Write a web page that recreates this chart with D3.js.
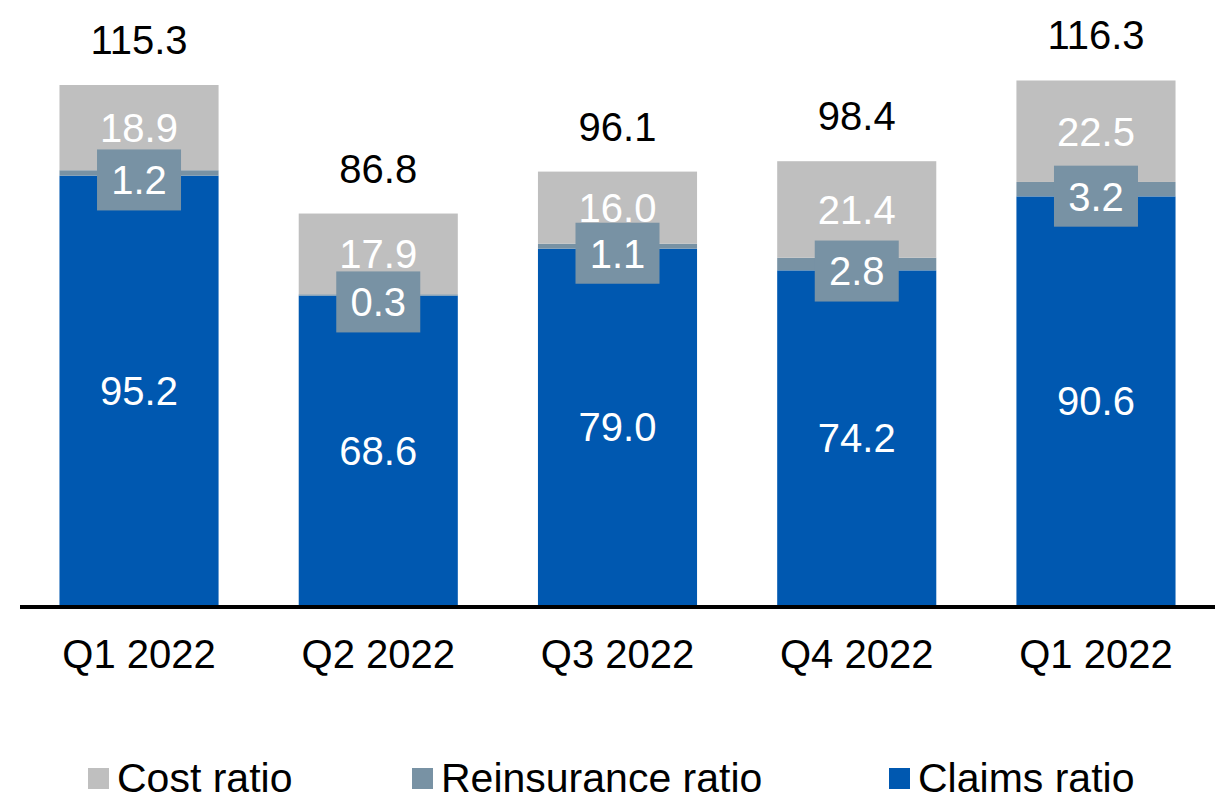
<!DOCTYPE html>
<meta charset="utf-8">
<style>

body {
  margin: 0;
  background: #fff;
}

svg {
  display: block;
  font-family: "Liberation Sans", Arial, sans-serif;
}

.axis-line {
  stroke: #000;
  stroke-width: 4px;
  shape-rendering: crispEdges;
}

.label {
  font-size: 40px;
  text-anchor: middle;
}

</style>
<body>
<script src="https://d3js.org/d3.v7.min.js"></script>
<script>

var categories = ["Q1 2022", "Q2 2022", "Q3 2022", "Q4 2022", "Q1 2022 "];
var claimsRatio = [95.2, 68.6, 79.0, 74.2, 90.6];
var reinsuranceRatio = [1.2, 0.3, 1.1, 2.8, 3.2];
var costRatio = [18.9, 17.9, 16.0, 21.4, 22.5];

var seriesNames = ["Cost ratio", "Reinsurance ratio", "Claims ratio"];
var colors = {claims: "#0058B0", reinsurance: "#7892A4", cost: "#BFBFBF"};

var width = 1215,
    height = 801,
    baseline = 605;

var rows = categories.map(function(c, i) {
  return {cat: c, claims: claimsRatio[i], reinsurance: reinsuranceRatio[i], cost: costRatio[i]};
});

var x = d3.scaleBand()
    .domain(categories)
    .range([20, width])
    .paddingInner(0.335)
    .paddingOuter(0.165);

var y = d3.scaleLinear()
    .domain([0, 120])
    .range([baseline, baseline - 120 * 4.51]);

var stack = d3.stack().keys(["claims", "reinsurance", "cost"]);
var series = stack(rows);

var svg = d3.select("body").append("svg")
    .attr("width", width)
    .attr("height", height);

// bars
svg.selectAll(".series")
    .data(series)
  .enter().append("g")
    .attr("class", "series")
    .attr("fill", function(s) { return colors[s.key]; })
  .selectAll("rect")
    .data(function(s) { return s; })
  .enter().append("rect")
    .attr("x", function(d) { return x(d.data.cat); })
    .attr("width", x.bandwidth())
    .attr("y", function(d) { return y(d[1]); })
    .attr("height", function(d) { return y(d[0]) - y(d[1]); });

// baseline
svg.append("line")
    .attr("class", "axis-line")
    .attr("x1", 20)
    .attr("x2", width)
    .attr("y1", baseline + 2)
    .attr("y2", baseline + 2);

var fmt = d3.format(".1f");

// claims and cost labels, centred in their segment
[series[0], series[2]].forEach(function(s) {
  svg.append("g").selectAll("text")
      .data(s)
    .enter().append("text")
      .attr("class", "label")
      .attr("fill", "#fff")
      .attr("x", function(d) { return x(d.data.cat) + x.bandwidth() / 2; })
      .attr("y", function(d) { return (y(d[0]) + y(d[1])) / 2; })
      .attr("dy", "0.36em")
      .text(function(d) { return fmt(d.data[s.key]); });
});

// reinsurance labels sit in a small box
var boxW = 84, boxH = 61;
var rein = svg.append("g").selectAll("g")
    .data(series[1])
  .enter().append("g")
    .attr("transform", function(d) {
      return "translate(" + (x(d.data.cat) + x.bandwidth() / 2) + "," + ((y(d[0]) + y(d[1])) / 2 + 7) + ")";
    });

rein.append("rect")
    .attr("x", -boxW / 2)
    .attr("y", -boxH / 2)
    .attr("width", boxW)
    .attr("height", boxH)
    .attr("fill", colors.reinsurance);

rein.append("text")
    .attr("class", "label")
    .attr("fill", "#fff")
    .attr("dy", "0.36em")
    .text(function(d) { return fmt(d.data.reinsurance); });

// totals
svg.append("g").selectAll("text")
    .data(series[2])
  .enter().append("text")
    .attr("class", "label")
    .attr("fill", "#000")
    .attr("x", function(d) { return x(d.data.cat) + x.bandwidth() / 2; })
    .attr("y", function(d) { return y(d[1]) - 31; })
    .text(function(d) { return fmt(d[1]); });

// category labels
svg.append("g").selectAll("text")
    .data(categories)
  .enter().append("text")
    .attr("class", "label")
    .attr("fill", "#000")
    .attr("x", function(d) { return x(d) + x.bandwidth() / 2; })
    .attr("y", 668)
    .text(function(d) { return d.trim(); });

// legend
var legendX = [88, 412, 889];
var legendColor = [colors.cost, colors.reinsurance, colors.claims];

var legend = svg.append("g").selectAll("g")
    .data(seriesNames)
  .enter().append("g")
    .attr("transform", function(d, i) { return "translate(" + legendX[i] + ",768)"; });

legend.append("rect")
    .attr("width", 21)
    .attr("height", 21)
    .attr("fill", function(d, i) { return legendColor[i]; });

legend.append("text")
    .attr("x", 29)
    .attr("y", 24)
    .style("font-size", "41px")
    .attr("fill", "#000")
    .text(function(d) { return d; });

</script>
